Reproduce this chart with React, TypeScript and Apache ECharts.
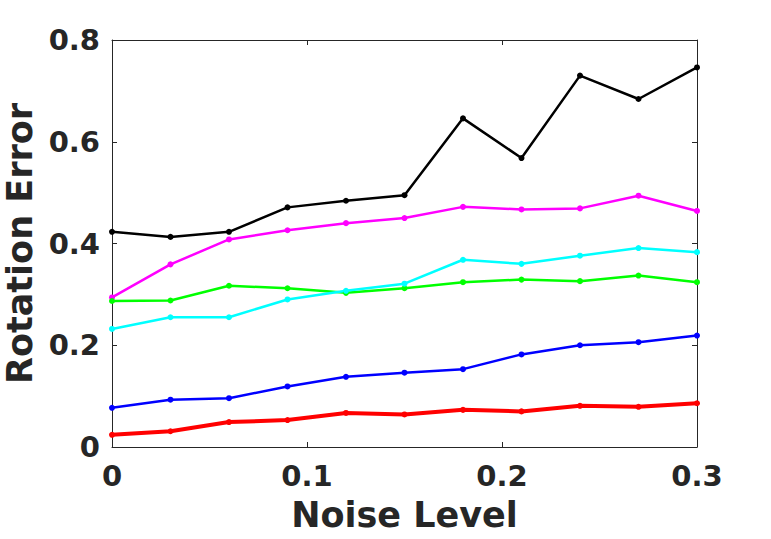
import React, { useEffect, useRef } from "react";
import * as echarts from "echarts";

const noiseLevels = [0, 0.03, 0.06, 0.09, 0.12, 0.15, 0.18, 0.21, 0.24, 0.27, 0.3];
const blackValues = [0.423, 0.413, 0.423, 0.471, 0.484, 0.495, 0.646, 0.568, 0.73, 0.684, 0.746];
const magentaValues = [0.294, 0.359, 0.408, 0.426, 0.44, 0.45, 0.472, 0.467, 0.469, 0.494, 0.464];
const greenValues = [0.287, 0.288, 0.317, 0.312, 0.303, 0.312, 0.324, 0.329, 0.326, 0.337, 0.324];
const cyanValues = [0.232, 0.255, 0.255, 0.29, 0.307, 0.321, 0.368, 0.36, 0.376, 0.391, 0.383];
const blueValues = [0.077, 0.093, 0.096, 0.119, 0.138, 0.146, 0.153, 0.182, 0.2, 0.206, 0.219];
const redValues = [0.024, 0.031, 0.049, 0.053, 0.067, 0.064, 0.073, 0.07, 0.081, 0.079, 0.086];

const seriesDefs = [
  { name: "black", color: "#000000", values: blackValues, width: 2.5 },
  { name: "magenta", color: "#ff00ff", values: magentaValues, width: 2.5 },
  { name: "green", color: "#00ff00", values: greenValues, width: 2.5 },
  { name: "cyan", color: "#00ffff", values: cyanValues, width: 2.5 },
  { name: "blue", color: "#0000ff", values: blueValues, width: 2.5 },
  { name: "red", color: "#ff0000", values: redValues, width: 4 },
];

const axisColor = "#262626";
const font = "DejaVu Sans";

function frameAxis(position: string, min: number, max: number, interval: number) {
  return {
    type: "value",
    min,
    max,
    interval,
    position,
    axisLine: { show: true, onZero: false, lineStyle: { color: axisColor, width: 1 } },
    axisTick: { show: true, inside: true, length: 5, lineStyle: { color: axisColor, width: 1 } },
    splitLine: { show: false },
    axisLabel: { show: false },
  };
}

export default function App() {
  const ref = useRef<HTMLDivElement>(null);
  useEffect(() => {
    if (!ref.current) return;
    const chart = echarts.init(ref.current, null, { renderer: "svg" });
    const labelStyle = {
      color: axisColor,
      fontFamily: font,
      fontWeight: "bold" as const,
      fontSize: 29,
    };
    const titleStyle = { color: axisColor, fontFamily: font, fontWeight: "bold" as const, fontSize: 35 };
    chart.setOption({
      animation: false,
      backgroundColor: "#ffffff",
      grid: { left: 112, right: 74, top: 40, bottom: 92, containLabel: false, outerBoundsMode: "none" },
      xAxis: [
        {
          ...frameAxis("bottom", 0, 0.3, 0.1),
          axisLabel: { show: true, ...labelStyle, margin: 14 },
          name: "Noise Level",
          nameLocation: "middle",
          nameGap: 50,
          nameTextStyle: titleStyle,
        },
        frameAxis("top", 0, 0.3, 0.1),
      ],
      yAxis: [
        {
          ...frameAxis("left", 0, 0.8, 0.2),
          axisLabel: { show: true, ...labelStyle, margin: 12 },
          name: "Rotation Error",
          nameLocation: "middle",
          nameGap: 73,
          nameTextStyle: titleStyle,
        },
        frameAxis("right", 0, 0.8, 0.2),
      ],
      series: seriesDefs.map((s) => ({
        name: s.name,
        type: "line",
        xAxisIndex: 0,
        yAxisIndex: 0,
        data: noiseLevels.map((x, i) => [x, s.values[i]]),
        symbol: "circle",
        symbolSize: 6,
        showSymbol: true,
        itemStyle: { color: s.color },
        lineStyle: { color: s.color, width: s.width },
      })),
    });
    return () => chart.dispose();
  }, []);
  return <div ref={ref} style={{ width: 771, height: 539, position: "absolute", left: 0, top: 0 }} />;
}
